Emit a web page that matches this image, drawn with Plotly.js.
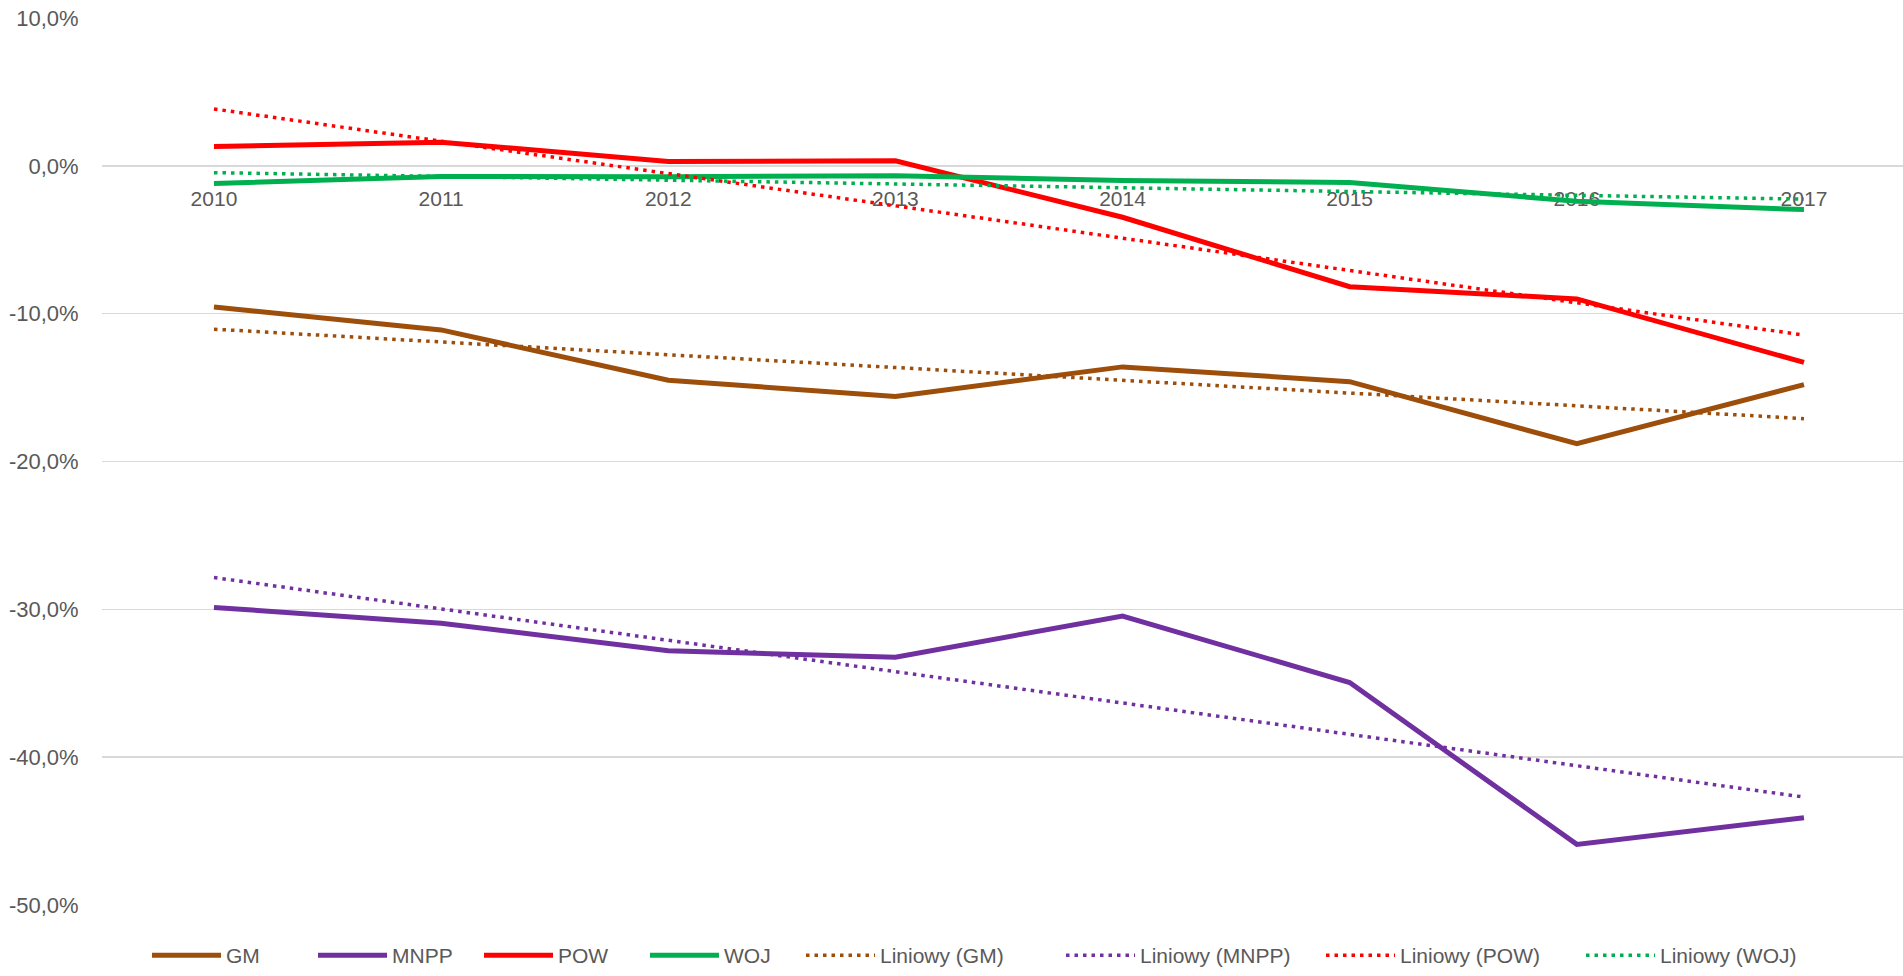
<!DOCTYPE html>
<html>
<head>
<meta charset="utf-8">
<script src="https://cdn.plot.ly/plotly-3.0.1.min.js"></script>
<style>
html,body{margin:0;padding:0;background:#fff;}
#chart{width:1903px;height:976px;}
</style>
</head>
<body>
<div id="chart"></div>
<script>
// Categories (years)
var years = ['2010', '2011', '2012', '2013', '2014', '2015', '2016', '2017'];

// Series values (fractions)
var GM   = [-0.0955, -0.1110, -0.1450, -0.1560, -0.1360, -0.1460, -0.1880, -0.1480];
var MNPP = [-0.2987, -0.3094, -0.3280, -0.3324, -0.3045, -0.3495, -0.4590, -0.4410];
var POW  = [ 0.0130,  0.0160,  0.0030,  0.0034, -0.0348, -0.0818, -0.0900, -0.1330];
var WOJ  = [-0.0120, -0.0072, -0.0074, -0.0067, -0.0100, -0.0112, -0.0240, -0.0296];

// Linear trendlines ("Liniowy"): values read at first and last year
var trendYears = ['2010', '2017'];
var trendGM   = [-0.1105, -0.1710];
var trendMNPP = [-0.2785, -0.4270];
var trendPOW  = [ 0.0385, -0.1145];
var trendWOJ  = [-0.0046, -0.0225];

// Names
var seriesNames = ['GM', 'MNPP', 'POW', 'WOJ'];
var trendNames = ['Liniowy (GM)', 'Liniowy (MNPP)', 'Liniowy (POW)', 'Liniowy (WOJ)'];

// Y-axis ticks and labels
var yTicks = [0.10, 0.0, -0.10, -0.20, -0.30, -0.40, -0.50];
var yTickLabels = ['10,0%', '0,0%', '-10,0%', '-20,0%', '-30,0%', '-40,0%', '-50,0%'];

var colors = ['#9C4E0A', '#7030A0', '#FF0000', '#00B050'];
var seriesData = [GM, MNPP, POW, WOJ];
var trendData = [trendGM, trendMNPP, trendPOW, trendWOJ];

var traces = [];
for (var i = 0; i < 4; i++) {
  traces.push({
    type: 'scatter', mode: 'lines', x: years, y: seriesData[i], name: seriesNames[i],
    line: {color: colors[i], width: 5}, hoverinfo: 'skip', legend: 'legend'
  });
}
for (var j = 0; j < 4; j++) {
  traces.push({
    type: 'scatter', mode: 'lines', x: trendYears, y: trendData[j], name: trendNames[j],
    line: {color: colors[j], width: 3.5, dash: '3.5px,5px'}, hoverinfo: 'skip', legend: 'legend2'
  });
}

var fontFam = '"Liberation Sans", Arial, sans-serif';
var plotL = 102, plotW = 1801;
var layout = {
  width: 1903, height: 976,
  margin: {l: plotL, r: 0, t: 18, b: 65, pad: 0},
  paper_bgcolor: '#ffffff', plot_bgcolor: '#ffffff',
  separators: ', ',
  showlegend: true,
  font: {family: fontFam, size: 21, color: '#595959'},
  xaxis: {
    type: 'category',
    categoryorder: 'array', categoryarray: years,
    range: [-0.493, 7.436],
    anchor: 'free', position: 50/60,
    showgrid: false, zeroline: false, showline: false,
    ticks: 'outside', ticklen: 14, tickcolor: 'rgba(0,0,0,0)',
    tickfont: {family: fontFam, size: 21, color: '#595959'},
    layer: 'below traces', fixedrange: true
  },
  yaxis: {
    range: [-0.50, 0.10],
    tickvals: yTicks, ticktext: yTickLabels,
    showgrid: true, gridcolor: '#D9D9D9', gridwidth: 1.5,
    zeroline: false, showline: false,
    ticks: 'outside', ticklen: 18, tickcolor: 'rgba(0,0,0,0)',
    tickfont: {family: fontFam, size: 22, color: '#595959'},
    fixedrange: true
  },
  legend: {
    orientation: 'h', x: (147 - plotL) / plotW, xanchor: 'left', y: -0.057, yanchor: 'middle',
    font: {family: fontFam, size: 21, color: '#595959'},
    bgcolor: 'rgba(0,0,0,0)', traceorder: 'normal',
    itemwidth: 69,
    entrywidth: 82, entrywidthmode: 'pixels'
  },
  legend2: {
    orientation: 'h', x: (801 - plotL) / plotW, xanchor: 'left', y: -0.057, yanchor: 'middle',
    font: {family: fontFam, size: 21, color: '#595959'},
    bgcolor: 'rgba(0,0,0,0)', traceorder: 'normal',
    itemwidth: 69,
    entrywidth: 176, entrywidthmode: 'pixels'
  }
};

Plotly.newPlot('chart', traces, layout, {displayModeBar: false, staticPlot: true});
</script>
</body>
</html>
